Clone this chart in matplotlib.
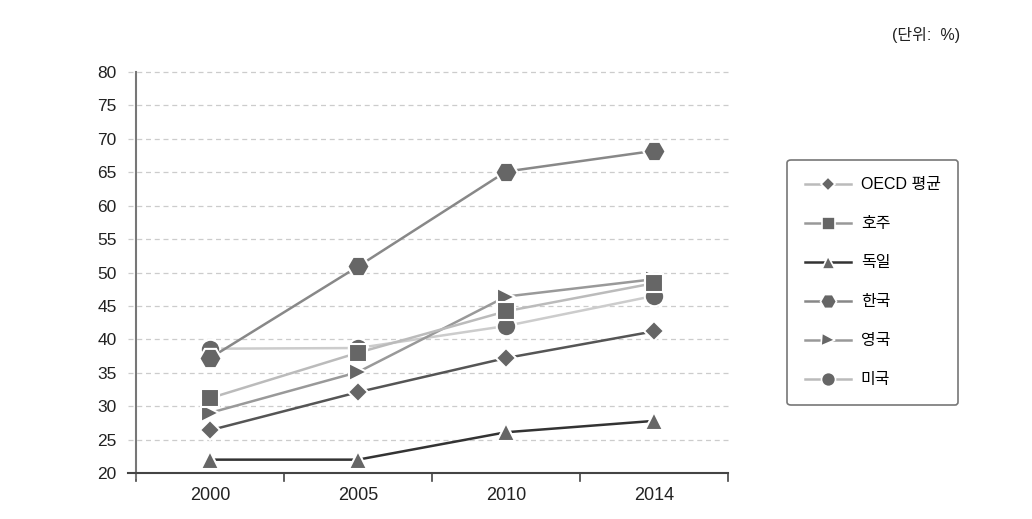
import numpy as np
import matplotlib.pyplot as plt
from matplotlib.lines import Line2D

plt.rcParams['font.family'] = ['Liberation Sans', 'Noto Sans CJK KR']

years = ['2000', '2005', '2010', '2014']
oecd = [26.4, 32.1, 37.2, 41.2]
australia = [31.2, 38.0, 44.2, 48.4]
germany = [22.0, 22.0, 26.1, 27.8]
korea = [37.2, 50.9, 65.1, 68.2]
uk = [29.0, 35.1, 46.4, 49.0]
usa = [38.6, 38.7, 42.0, 46.5]

names = ['OECD 평균', '호주', '독일', '한국', '영국', '미국']
series = [oecd, australia, germany, korea, uk, usa]
markers = ['D', 's', '^', 'H', '>', 'o']
msizes = [10, 13, 13, 16, 13, 14]
line_cols = ['#555555', '#bbbbbb', '#333333', '#888888', '#999999', '#cccccc']
leg_cols = ['#bbbbbb', '#999999', '#333333', '#888888', '#999999', '#bbbbbb']
face = '#666666'

fig = plt.figure(figsize=(10.32, 5.19), dpi=100)
ax = fig.add_axes([0.1318, 0.0886, 0.5736, 0.7727])

x = np.arange(len(years))
# back to front, as stacked in the picture
order = [5, 4, 1, 0, 2, 3]
for k, i in enumerate(order):
    ax.plot(x, series[i], color=line_cols[i], lw=1.8, marker=markers[i],
            ms=msizes[i], mfc=face, mec='white', mew=1.5, zorder=3 + k * 0.1)

ax.set_xlim(-0.5, 3.5)
ax.set_ylim(20, 80)
ax.set_yticks(np.arange(20, 81, 5))
ax.set_xticks(x)
ax.set_xticklabels(years)
ax.tick_params(axis='y', length=0, pad=14, labelsize=12.5, colors='#222222')
ax.tick_params(axis='x', length=0, pad=10, labelsize=13, colors='#222222')

for v in np.arange(25, 81, 5):
    ax.axhline(v, xmin=-0.014, xmax=1, color='#cccccc', lw=0.9, ls=(0, (4, 3)),
               clip_on=False, zorder=1)

for s in ['top', 'right']:
    ax.spines[s].set_visible(False)
ax.spines['left'].set_color('#777777')
ax.spines['left'].set_linewidth(1.5)
ax.spines['left'].set_bounds(19.3, 80)
ax.spines['bottom'].set_color('#444444')
ax.spines['bottom'].set_linewidth(1.5)
ax.axhline(20, xmin=-0.014, xmax=0, color='#444444', lw=1.5, clip_on=False)
ax.spines['left'].set_zorder(2)

for b in [-0.5, 0.5, 1.5, 2.5, 3.5]:
    ax.plot([b, b], [20, 18.8], color='#444444', lw=1.2, clip_on=False)

handles = []
for i in range(6):
    handles.append(Line2D([0], [0], color=leg_cols[i], lw=1.8, marker=markers[i],
                          ms=msizes[i] * 0.72, mfc=face, mec='white', mew=1.2))
leg = fig.legend(handles, names, loc='upper left', bbox_to_anchor=(0.763, 0.692),
                 frameon=True, fontsize=11.5, handlelength=2.9, labelspacing=1.5,
                 borderpad=1.1, handletextpad=0.6, borderaxespad=0, fancybox=True)
leg.get_frame().set_edgecolor('#555555')
leg.get_frame().set_linewidth(1.2)
leg.get_frame().set_boxstyle('round', pad=0, rounding_size=0.2)

fig.text(0.897, 0.933, '(단위:  %)', ha='center', va='center', fontsize=11.5, color='#222222')

fig.savefig('out.png', dpi=100)
